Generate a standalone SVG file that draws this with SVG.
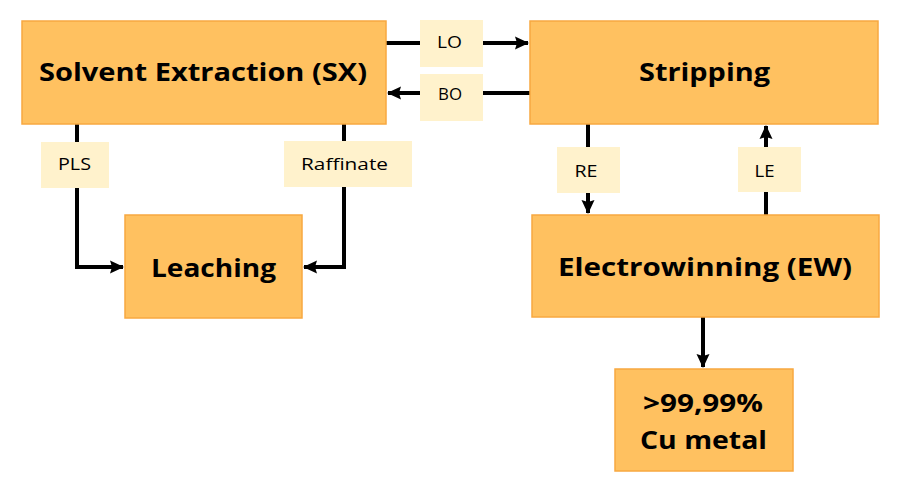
<svg xmlns="http://www.w3.org/2000/svg" width="916" height="482" viewBox="0 0 916 482">
<style>
.box{fill:#FFC160;stroke:#F8A840;stroke-width:1.5}
.lbl{fill:#FFF2CC}
.bt{font-family:"Open Sans",sans-serif;font-weight:bold;font-size:25px;fill:#000;text-anchor:middle}
.lt{font-family:"Open Sans",sans-serif;font-size:17px;fill:#000;text-anchor:middle}
.ln{fill:none;stroke:#000;stroke-width:4}
</style>
<defs>
<marker id="ah" markerUnits="userSpaceOnUse" markerWidth="14" markerHeight="14" viewBox="0 0 14 14" refX="13" refY="7" orient="auto">
<path d="M0,0.5 L14,7 L0,13.5 L2,7 Z" fill="#000"/>
</marker>
</defs>
<g id="connectors">
<path class="ln" d="M386,43 H528" marker-end="url(#ah)"/>
<path class="ln" d="M530,93 H388" marker-end="url(#ah)"/>
<path class="ln" d="M77,124 V267 H123" marker-end="url(#ah)"/>
<path class="ln" d="M344,124 V267 H304" marker-end="url(#ah)"/>
<path class="ln" d="M588,124 V213" marker-end="url(#ah)"/>
<path class="ln" d="M766,215 V126" marker-end="url(#ah)"/>
<path class="ln" d="M703,317 V367" marker-end="url(#ah)"/>
<g id="label-LO"><rect class="lbl" x="420" y="20" width="63" height="47"/><text class="lt" x="449.5" y="48" textLength="25" lengthAdjust="spacingAndGlyphs">LO</text></g>
<g id="label-BO"><rect class="lbl" x="420" y="74" width="63" height="47"/><text class="lt" x="450" y="100" textLength="24" lengthAdjust="spacingAndGlyphs">BO</text></g>
<g id="label-PLS"><rect class="lbl" x="41" y="142" width="68" height="46"/><text class="lt" x="74.5" y="170" textLength="33" lengthAdjust="spacingAndGlyphs">PLS</text></g>
<g id="label-Raffinate"><rect class="lbl" x="284" y="141" width="128" height="46"/><text class="lt" x="344.5" y="170" textLength="87" lengthAdjust="spacingAndGlyphs">Raffinate</text></g>
<g id="label-RE"><rect class="lbl" x="557" y="147" width="63" height="46"/><text class="lt" x="586" y="177" textLength="23" lengthAdjust="spacingAndGlyphs">RE</text></g>
<g id="label-LE"><rect class="lbl" x="738" y="147" width="63" height="45"/><text class="lt" x="764.5" y="177" textLength="20" lengthAdjust="spacingAndGlyphs">LE</text></g>
</g>
<g id="node-sx"><rect class="box" x="22" y="21" width="364" height="103"/><text class="bt" x="203" y="81" textLength="328" lengthAdjust="spacingAndGlyphs">Solvent Extraction (SX)</text></g>
<g id="node-stripping"><rect class="box" x="530" y="21" width="348" height="103"/><text class="bt" x="704.5" y="81" textLength="131" lengthAdjust="spacingAndGlyphs">Stripping</text></g>
<g id="node-leaching"><rect class="box" x="125" y="215" width="177" height="103"/><text class="bt" x="213.5" y="277" textLength="125" lengthAdjust="spacingAndGlyphs">Leaching</text></g>
<g id="node-ew"><rect class="box" x="532" y="215" width="347" height="102"/><text class="bt" x="705" y="276" textLength="294" lengthAdjust="spacingAndGlyphs">Electrowinning (EW)</text></g>
<g id="node-cu"><rect class="box" x="615" y="369" width="178" height="102"/><text class="bt" x="703" y="412" textLength="120" lengthAdjust="spacingAndGlyphs">&gt;99,99%</text><text class="bt" x="703.5" y="449" textLength="127" lengthAdjust="spacingAndGlyphs">Cu metal</text></g>
</svg>
